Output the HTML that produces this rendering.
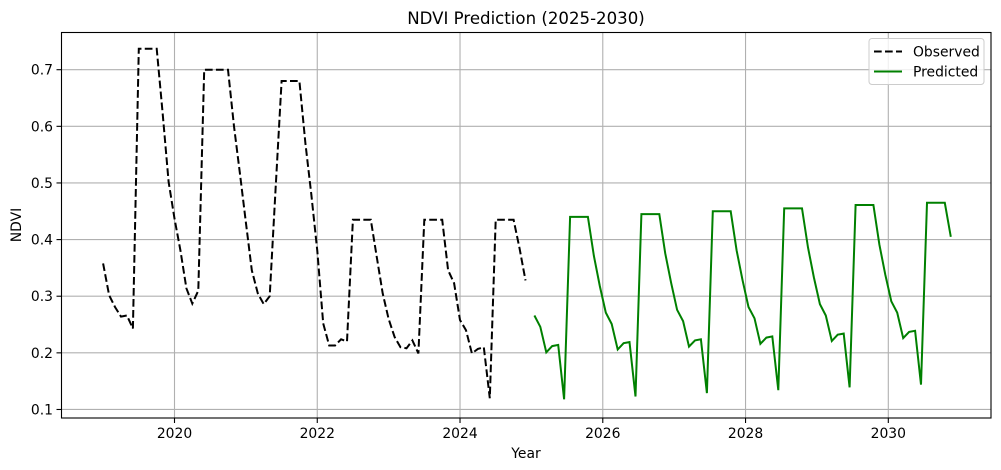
<!DOCTYPE html>
<html><head><meta charset="utf-8"><style>
body{margin:0;background:#fff;}
svg{display:block;font-family:"DejaVu Sans","Liberation Sans",sans-serif;}
</style></head><body>
<svg id="chart" width="1001" height="470" viewBox="0 0 1001 470" xmlns="http://www.w3.org/2000/svg">
<rect width="1001" height="470" fill="#fff"/>
<text x="526" y="24" font-size="16.6" text-anchor="middle" fill="#000">NDVI Prediction (2025-2030)</text>
<g id="grid"></g>
<g id="series"></g>
<rect x="61.5" y="32.5" width="929.5" height="385.5" fill="none" stroke="#000" stroke-width="1.1"/>
<g id="axes"></g>
<text x="526" y="458" font-size="13.9" text-anchor="middle">Year</text>
<text transform="translate(21,225) rotate(-90)" font-size="13.9" text-anchor="middle">NDVI</text>
<g>
<rect x="869" y="38.5" width="115" height="46" rx="3" fill="#fff" fill-opacity="0.8" stroke="#ccc"/>
<line x1="874" y1="51.5" x2="902" y2="51.5" stroke="#000" stroke-width="2" stroke-dasharray="7.7,3.3"/>
<text x="913" y="56.5" font-size="13.9">Observed</text>
<line x1="874" y1="71.5" x2="902" y2="71.5" stroke="#008000" stroke-width="2"/>
<text x="913" y="76.5" font-size="13.9">Predicted</text>
</g>
</svg>
<script>
const obsStartYear = 2019;
const observed = [
.358,.302,.281,.264,.266,.243,.737,.737,.737,.737,.624,.502,
.437,.381,.314,.287,.310,.700,.700,.700,.700,.700,.600,.517,
.430,.346,.305,.286,.300,.490,.680,.680,.680,.680,.570,.480,
.380,.252,.213,.213,.224,.220,.435,.435,.435,.435,.370,.305,
.260,.228,.210,.208,.222,.199,.435,.435,.435,.435,.346,.323,
.258,.240,.199,.207,.210,.120,.435,.435,.435,.435,.385,.328];
const predStartYear = 2025;
const predicted = [
.266,.246,.201,.212,.214,.118,.440,.440,.440,.440,.371,.318,
.271,.251,.206,.217,.219,.123,.445,.445,.445,.445,.376,.323,
.276,.256,.211,.222,.224,.129,.450,.450,.450,.450,.381,.328,
.281,.261,.216,.227,.229,.134,.455,.455,.455,.455,.386,.333,
.286,.266,.221,.232,.234,.139,.461,.461,.461,.461,.391,.338,
.291,.271,.226,.237,.239,.144,.465,.465,.465,.465,.405];
const xTicks = [2020,2022,2024,2026,2028,2030];
const yTicks = [0.1,0.2,0.3,0.4,0.5,0.6,0.7];

const NS="http://www.w3.org/2000/svg";
function X(y){return 174.5+(y-2020)*71.38;}
function Y(v){return 69.7+(0.7-v)*566.3;}
function mk(tag,attrs,parent){const e=document.createElementNS(NS,tag);for(const k in attrs)e.setAttribute(k,attrs[k]);parent.appendChild(e);return e;}
const grid=document.getElementById('grid'),axes=document.getElementById('axes'),series=document.getElementById('series');
xTicks.forEach(t=>{
  const x=X(t);
  const g=mk('line',{x1:x,x2:x,y1:32.5,y2:418,stroke:'#b0b0b0','stroke-width':1.1},grid);
  
  
  mk('line',{x1:x,x2:x,y1:418,y2:423,stroke:'#000','stroke-width':1.1},axes);
  const tx=mk('text',{x:x,y:438,'font-size':13.9,'text-anchor':'middle'},axes);
  tx.textContent=t;
  
  
});
yTicks.forEach(t=>{
  const y=Y(t);
  const g=mk('line',{x1:61.5,x2:991,y1:y,y2:y,stroke:'#b0b0b0','stroke-width':1.1},grid);
  
  
  mk('line',{x1:56.5,x2:61.5,y1:y,y2:y,stroke:'#000','stroke-width':1.1},axes);
  const tx=mk('text',{x:53,y:y+5,'font-size':13.9,'text-anchor':'end'},axes);
  tx.textContent=t.toFixed(1);
  
  
});
const op=observed.map((v,i)=>X(obsStartYear+i/12).toFixed(1)+','+Y(v).toFixed(1)).join(' ');
const ol=mk('polyline',{points:op,fill:'none',stroke:'#000','stroke-width':2,'stroke-dasharray':'7.7,3.3'},series);


const pp=predicted.map((v,i)=>X(predStartYear+(i+0.5)/12).toFixed(1)+','+Y(v).toFixed(1)).join(' ');
const pl=mk('polyline',{points:pp,fill:'none',stroke:'#008000','stroke-width':2},series);


</script>
</body></html>
